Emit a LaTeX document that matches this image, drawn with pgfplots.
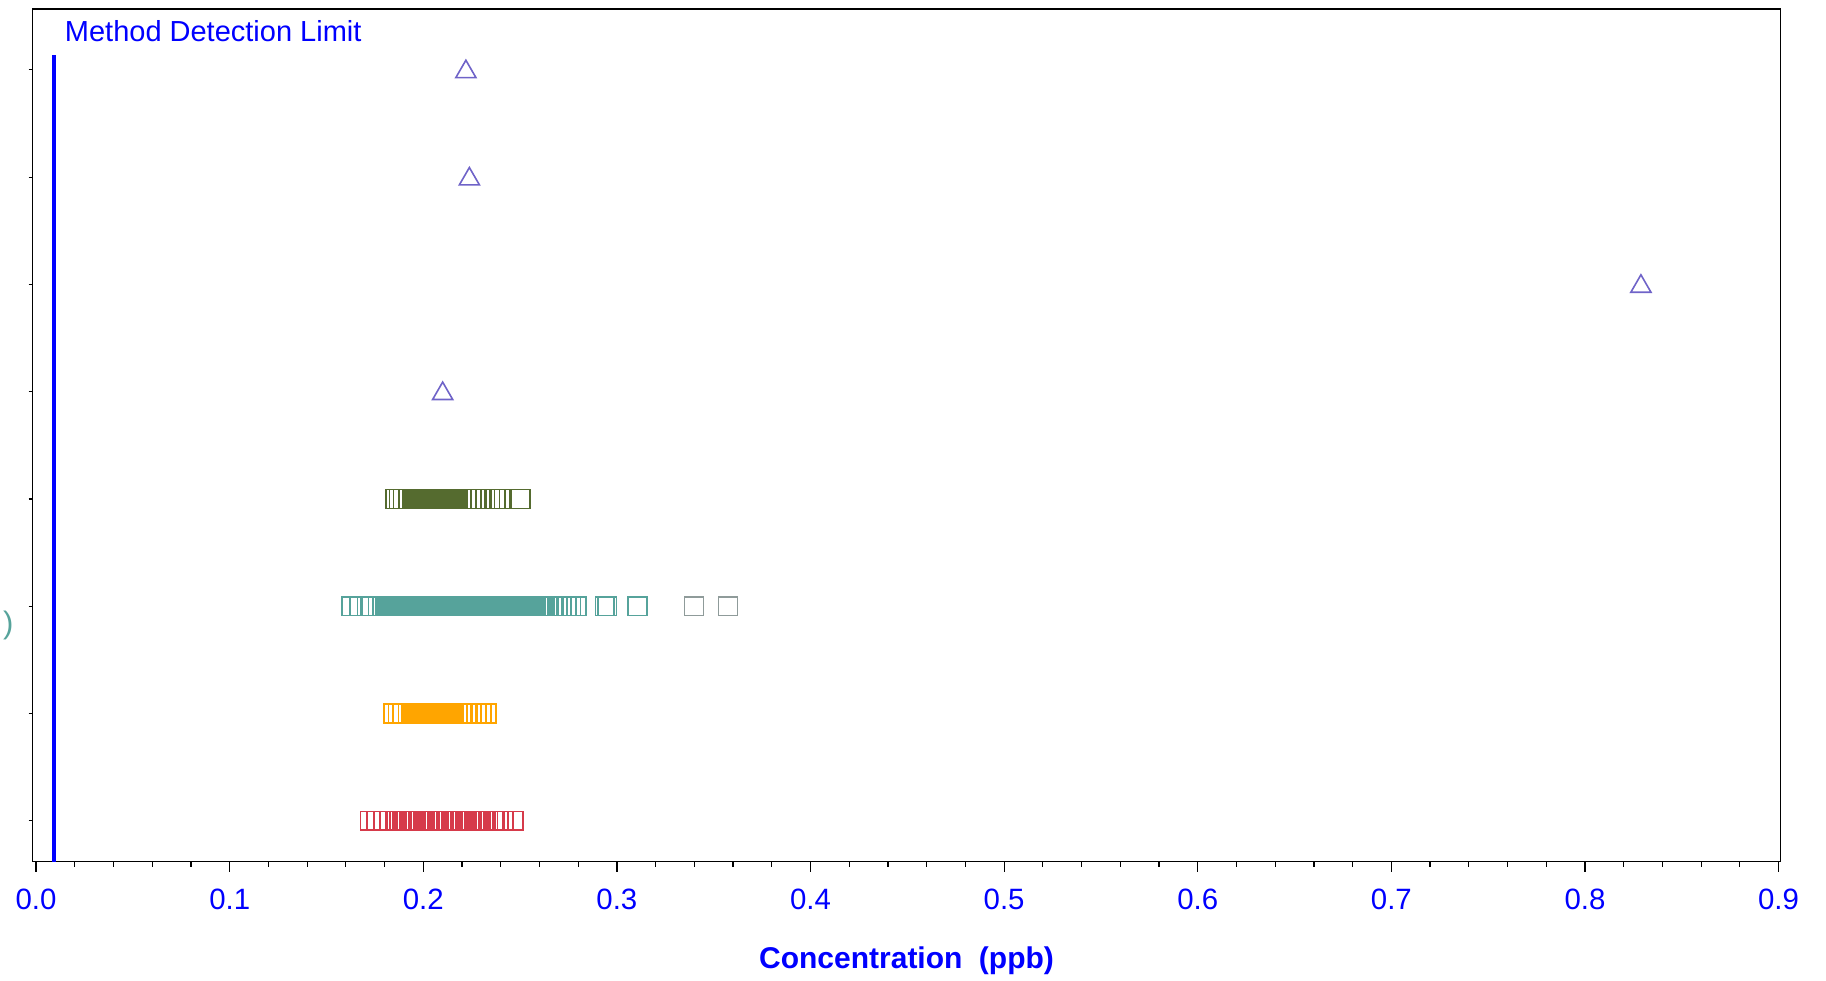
\documentclass[border=0pt]{standalone}
\usepackage{pgfplots}
\pgfplotsset{compat=1.18}
\usepackage{fontspec}
\setmainfont{Liberation Sans}
\definecolor{tri}{HTML}{6F63C8}
\definecolor{olv}{HTML}{556B2F}
\definecolor{tea}{HTML}{56A39B}
\definecolor{org}{HTML}{FFA500}
\definecolor{rd}{HTML}{D63A4A}
\definecolor{gry}{HTML}{8F9B9A}
\begin{document}
\begin{tikzpicture}
\begin{axis}[
  name=ax, at={(0,0)}, anchor=south west,
  scale only axis, width=874bp, height=426.2bp,
  xmin=-0.0018, xmax=0.901, ymin=-0.38, ymax=7.564,
  xtick={0,0.1,0.2,0.3,0.4,0.5,0.6,0.7,0.8,0.9},
  minor x tick num=4,
  ytick=\empty,
  xtick pos=bottom,
  tick align=outside,
  major tick length=5bp, minor tick length=2.5bp,
  tick style={black, line width=0.6bp},
  axis line style={black, line width=0.8bp},
  xticklabel style={font=\fontsize{14.7bp}{17bp}\selectfont, text=blue, yshift=-5bp},
  /pgf/number format/.cd, fixed, fixed zerofill, precision=1, assume math mode=true,
  /pgfplots/.cd,
  xlabel={Concentration\hspace{0.55em}(ppb)},
  xlabel style={font=\bfseries\fontsize{15bp}{18bp}\selectfont, text=blue, at={(axis description cs:0.5,0)}, anchor=center, yshift=-49.5bp},
  clip=false,
]
% Method detection limit
\addplot[blue, line width=2bp] coordinates {(0.009,-0.38) (0.009,7.14)};
\node[anchor=base west, inner sep=0pt, text=blue, font=\fontsize{14.5bp}{17bp}\selectfont] at (axis cs:0.0147,7.263) {Method Detection Limit};
\node[anchor=center, inner sep=0pt, text=tea, font=\fontsize{15.5bp}{17bp}\selectfont] at (axis cs:-0.0143,1.818) {)};
% triangles
\addplot[only marks, mark=triangle, mark size=5.8bp, color=tri, mark options={line width=0.8bp, yshift=-1bp}] coordinates {(0.2220,7) (0.2238,6) (0.8289,5) (0.2100,4)};
% olive row (3)
\addplot[only marks, mark=square, mark size=4.7bp, color=olv, mark options={line width=0.8bp}] coordinates {
(0.1857,3) (0.1874,3) (0.1895,3) (0.1924,3)
(0.1945,3) (0.1957,3) (0.1969,3) (0.1981,3) (0.1993,3) (0.2005,3) (0.2017,3) (0.2029,3) (0.2041,3) (0.2053,3)
(0.2065,3) (0.2077,3) (0.2089,3) (0.2101,3) (0.2113,3) (0.2125,3) (0.2137,3) (0.2149,3) (0.2161,3)
(0.1951,3) (0.1963,3) (0.1975,3) (0.1987,3) (0.1999,3) (0.2011,3) (0.2023,3) (0.2035,3) (0.2047,3) (0.2059,3)
(0.2071,3) (0.2083,3) (0.2095,3) (0.2107,3) (0.2119,3) (0.2131,3) (0.2143,3) (0.2155,3)
(0.2179,3) (0.2201,3) (0.2226,3) (0.2248,3) (0.2269,3) (0.2294,3) (0.2320,3) (0.2346,3) (0.2372,3) (0.2398,3) (0.2501,3)};
% teal row (2)
\addplot[only marks, mark=square, mark size=4.7bp, color=tea, mark options={line width=0.8bp}] coordinates {
(0.1630,2) (0.1669,2) (0.1709,2) (0.1733,2) (0.1766,2) (0.1790,2) (0.1802,2) (0.1814,2) (0.1826,2)
(0.1835,2) (0.1847,2) (0.1859,2) (0.1871,2) (0.1883,2) (0.1895,2) (0.1907,2) (0.1919,2) (0.1931,2) (0.1943,2)
(0.1955,2) (0.1967,2) (0.1979,2) (0.1991,2) (0.2003,2) (0.2015,2) (0.2027,2) (0.2039,2) (0.2051,2) (0.2063,2)
(0.2075,2) (0.2087,2) (0.2099,2) (0.2111,2) (0.2123,2) (0.2135,2) (0.2147,2) (0.2159,2) (0.2171,2) (0.2183,2)
(0.2195,2) (0.2207,2) (0.2219,2) (0.2231,2) (0.2243,2) (0.2255,2) (0.2267,2) (0.2279,2) (0.2291,2) (0.2303,2)
(0.2315,2) (0.2327,2) (0.2339,2) (0.2351,2) (0.2363,2) (0.2375,2) (0.2387,2) (0.2399,2) (0.2411,2) (0.2423,2)
(0.2435,2) (0.2447,2)
(0.1841,2) (0.1853,2) (0.1865,2) (0.1877,2) (0.1889,2) (0.1901,2) (0.1913,2) (0.1925,2) (0.1937,2) (0.1949,2)
(0.1961,2) (0.1973,2) (0.1985,2) (0.1997,2) (0.2009,2) (0.2021,2) (0.2033,2) (0.2045,2) (0.2057,2) (0.2069,2)
(0.2081,2) (0.2093,2) (0.2105,2) (0.2117,2) (0.2129,2) (0.2141,2) (0.2153,2) (0.2165,2) (0.2177,2) (0.2189,2)
(0.2201,2) (0.2213,2) (0.2225,2) (0.2237,2) (0.2249,2) (0.2261,2) (0.2273,2) (0.2285,2) (0.2297,2) (0.2309,2)
(0.2321,2) (0.2333,2) (0.2345,2) (0.2357,2) (0.2369,2) (0.2381,2) (0.2393,2) (0.2405,2) (0.2417,2) (0.2429,2)
(0.2441,2)
(0.2453,2) (0.2459,2) (0.2465,2) (0.2471,2) (0.2477,2) (0.2488,2) (0.2494,2) (0.2500,2) (0.2512,2) (0.2518,2)
(0.2524,2) (0.2538,2) (0.2544,2) (0.2550,2) (0.2564,2) (0.2570,2) (0.2576,2) (0.2594,2) (0.2610,2) (0.2616,2)
(0.2482,2) (0.2506,2) (0.2532,2) (0.2558,2) (0.2582,2) (0.2604,2) (0.2627,2) (0.2646,2) (0.2672,2) (0.2694,2)
(0.2715,2) (0.2740,2) (0.2763,2) (0.2792,2) (0.2937,2) (0.2950,2) (0.3107,2)};
\addplot[only marks, mark=square, mark size=4.7bp, color=gry, mark options={line width=0.8bp}] coordinates {(0.3398,2) (0.3574,2)};
% orange row (1)
\addplot[only marks, mark=square, mark size=4.7bp, color=org, mark options={line width=0.8bp}] coordinates {
(0.1845,1) (0.1869,1) (0.1893,1) (0.1921,1)
(0.1940,1) (0.1952,1) (0.1964,1) (0.1976,1) (0.1988,1) (0.2000,1) (0.2012,1) (0.2024,1) (0.2036,1) (0.2048,1)
(0.2060,1) (0.2072,1) (0.2084,1) (0.2096,1) (0.2108,1) (0.2120,1) (0.2132,1) (0.2144,1) (0.2156,1)
(0.1946,1) (0.1958,1) (0.1970,1) (0.1982,1) (0.1994,1) (0.2006,1) (0.2018,1) (0.2030,1) (0.2042,1) (0.2054,1)
(0.2066,1) (0.2078,1) (0.2090,1) (0.2102,1) (0.2114,1) (0.2126,1) (0.2138,1) (0.2150,1)
(0.2174,1) (0.2196,1) (0.2222,1) (0.2248,1) (0.2276,1) (0.2301,1) (0.2327,1)};
% red row (0)
\addplot[only marks, mark=square, mark size=4.7bp, color=rd, mark options={line width=0.8bp}] coordinates {
(0.1725,0) (0.1759,0) (0.1795,0) (0.1828,0) (0.1860,0) (0.1878,0)
(0.1890,0) (0.1902,0) (0.1914,0) (0.1926,0) (0.1938,0) (0.1950,0) (0.1962,0) (0.1974,0) (0.1986,0) (0.1998,0)
(0.2010,0) (0.2022,0) (0.2034,0) (0.2046,0) (0.2058,0) (0.2070,0) (0.2082,0) (0.2094,0) (0.2106,0) (0.2118,0)
(0.2130,0) (0.2142,0) (0.2154,0) (0.2166,0) (0.2178,0) (0.2190,0) (0.2202,0) (0.2214,0) (0.2226,0) (0.2238,0)
(0.2250,0) (0.2262,0) (0.2274,0) (0.2286,0) (0.2298,0) (0.2310,0) (0.2322,0) (0.2334,0)
(0.1908,0) (0.1932,0) (0.1956,0) (0.1980,0) (0.2004,0) (0.2028,0) (0.2052,0) (0.2076,0) (0.2100,0) (0.2124,0)
(0.2148,0) (0.2172,0) (0.2196,0) (0.2220,0) (0.2244,0) (0.2268,0) (0.2292,0) (0.2316,0)
(0.2363,0) (0.2389,0) (0.2415,0) (0.2465,0)};
\end{axis}
% y ticks (short, outside)
\begin{axis}[
  at={(0,0)}, anchor=south west,
  scale only axis, width=874bp, height=426.2bp,
  xmin=-0.0018, xmax=0.901, ymin=-0.38, ymax=7.564,
  hide x axis,
  y axis line style={draw=none},
  ytick={0,1,2,3,4,5,6,7}, yticklabels={},
  ytick pos=left, tick align=outside,
  major tick length=2bp,
  ytick style={black, line width=0.6bp},
]
\addplot[draw=none] coordinates {(0,0) (0.9,7)};
\end{axis}
\pgfresetboundingbox
\path[use as bounding box] ([shift={(-16.3bp,-59.65bp)}]ax.south west) rectangle ([shift={(22.75bp,4.65bp)}]ax.north east);
\end{tikzpicture}
\end{document}
